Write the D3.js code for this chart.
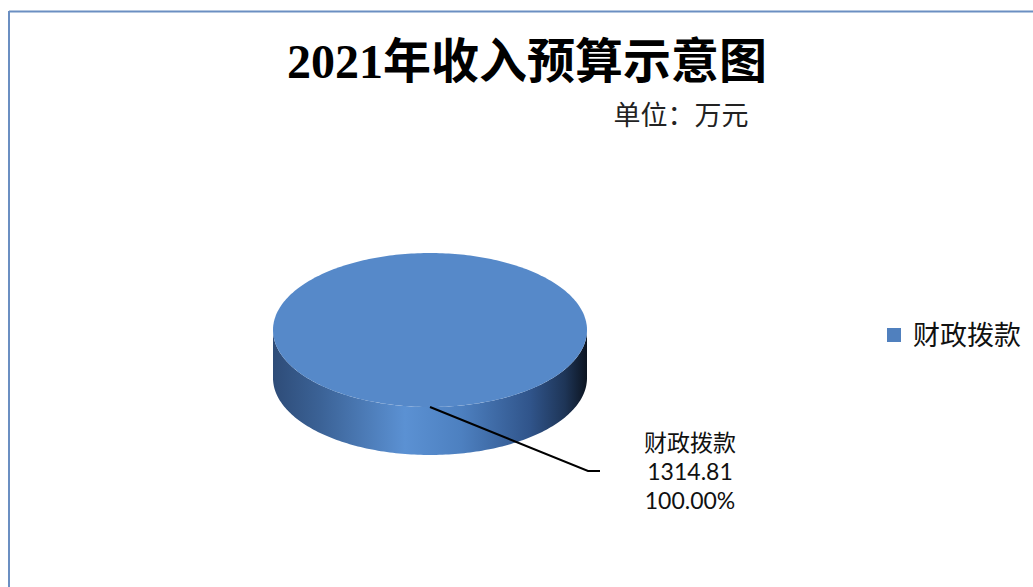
<!DOCTYPE html>
<html>
<head>
<meta charset="utf-8">
<script src="https://cdn.jsdelivr.net/npm/d3@7"></script>
<style>
  body { margin: 0; background: #fff; }
  svg { display: block; }
</style>
</head>
<body>
<svg width="1033" height="587"></svg>
<script>
var categories = ["财政拨款"];
var values = [1314.81];
var title = "2021年收入预算示意图";
var unitText = "单位：万元";

var svg = d3.select("svg"),
    width = +svg.attr("width"),
    height = +svg.attr("height");

var cjk = "'Noto Sans CJK SC', 'Noto Sans', sans-serif";
var latin = "Lato, 'Noto Sans CJK SC', sans-serif";

// frame lines (left + top)
svg.append("line").attr("x1", 9).attr("y1", 11.5).attr("x2", width).attr("y2", 11.5)
    .attr("stroke", "#6b8fc2").attr("stroke-width", 2);
svg.append("line").attr("x1", 9).attr("y1", 11).attr("x2", 9).attr("y2", height)
    .attr("stroke", "#6b8fc2").attr("stroke-width", 2);

// title
svg.append("text")
    .attr("x", 527).attr("y", 78)
    .attr("text-anchor", "middle")
    .attr("font-family", "'Liberation Serif', 'Noto Sans CJK SC', serif")
    .attr("font-weight", "bold")
    .attr("font-size", "48px")
    .attr("fill", "#000")
    .text(title);

svg.append("text")
    .attr("x", 681).attr("y", 125)
    .attr("text-anchor", "middle")
    .attr("font-family", cjk)
    .attr("font-size", "27px")
    .attr("fill", "#222")
    .text(unitText);

// 3D pie
var cx = 430, cy = 330, rx = 157, ry = 77, depth = 48;
var total = d3.sum(values);
var pie = d3.pie().sort(null)(values);
var color = d3.scaleOrdinal().domain(categories).range(["#5689c9"]);

var defs = svg.append("defs");
var grad = defs.append("linearGradient").attr("id", "sideGrad")
    .attr("gradientUnits", "userSpaceOnUse")
    .attr("x1", cx - rx).attr("x2", cx + rx).attr("y1", 0).attr("y2", 0);
[[0, "#2e4c78"], [0.15, "#3b6296"], [0.42, "#5b91d3"], [0.6, "#4d80c0"],
 [0.82, "#30548a"], [0.93, "#1e3557"], [1, "#0c1420"]].forEach(function(s) {
  grad.append("stop").attr("offset", s[0]).attr("stop-color", s[1]);
});

function px(a) { return cx + rx * Math.sin(a); }
function py(a, dy) { return cy - ry * Math.cos(a) + (dy || 0); }

function arcPoints(a0, a1, dy) {
  var n = Math.max(2, Math.ceil((a1 - a0) / 0.02));
  return d3.range(n + 1).map(function(i) {
    var a = a0 + (a1 - a0) * i / n;
    return [px(a), py(a, dy)];
  });
}

var line = d3.line();
var g = svg.append("g");

// outer walls (front half: angle between PI/2 and 3PI/2)
pie.forEach(function(d) {
  var a0 = Math.max(d.startAngle, Math.PI / 2),
      a1 = Math.min(d.endAngle, 3 * Math.PI / 2);
  if (a1 <= a0) return;
  var top = arcPoints(a0, a1, 0);
  var bottom = arcPoints(a0, a1, depth).reverse();
  g.append("path")
      .attr("d", line(top.concat(bottom)) + "Z")
      .attr("fill", "url(#sideGrad)");
});

// top faces
pie.forEach(function(d, i) {
  var pts = arcPoints(d.startAngle, d.endAngle, 0);
  var full = d.endAngle - d.startAngle >= 2 * Math.PI - 1e-6;
  g.append("path")
      .attr("d", line(full ? pts : [[cx, cy]].concat(pts)) + "Z")
      .attr("fill", color(categories[i]));
});

// data labels with leader lines
var fmt = d3.format(".2f");
pie.forEach(function(d, i) {
  var mid = (d.endAngle - d.startAngle >= 2 * Math.PI - 1e-6) ? Math.PI
          : (d.startAngle + d.endAngle) / 2;
  var sx = px(mid), sy = py(mid, 0);
  g.append("polyline")
      .attr("points", [[sx, sy], [588, 471], [600, 471]].join(" "))
      .attr("fill", "none").attr("stroke", "#000").attr("stroke-width", 2);
  var lbl = g.append("text")
      .attr("x", 690).attr("y", 451)
      .attr("text-anchor", "middle")
      .attr("font-size", "23px")
      .attr("fill", "#111");
  lbl.append("tspan").attr("x", 690).attr("font-family", cjk).text(categories[i]);
  lbl.append("tspan").attr("x", 690).attr("dy", 29).attr("font-family", latin).text(fmt(d.value));
  lbl.append("tspan").attr("x", 690).attr("dy", 29).attr("font-family", latin)
      .text(fmt(d.value / total * 100) + "%");
});

// legend
var legend = svg.append("g").selectAll("g").data(categories).enter().append("g")
    .attr("transform", function(d, i) { return "translate(887," + (328 + i * 30) + ")"; });
legend.append("rect").attr("width", 14).attr("height", 14).attr("fill", "#5080be");
legend.append("text")
    .attr("x", 26).attr("y", 17)
    .attr("font-family", cjk).attr("font-size", "27px").attr("fill", "#111")
    .text(function(d) { return d; });
</script>
</body>
</html>
